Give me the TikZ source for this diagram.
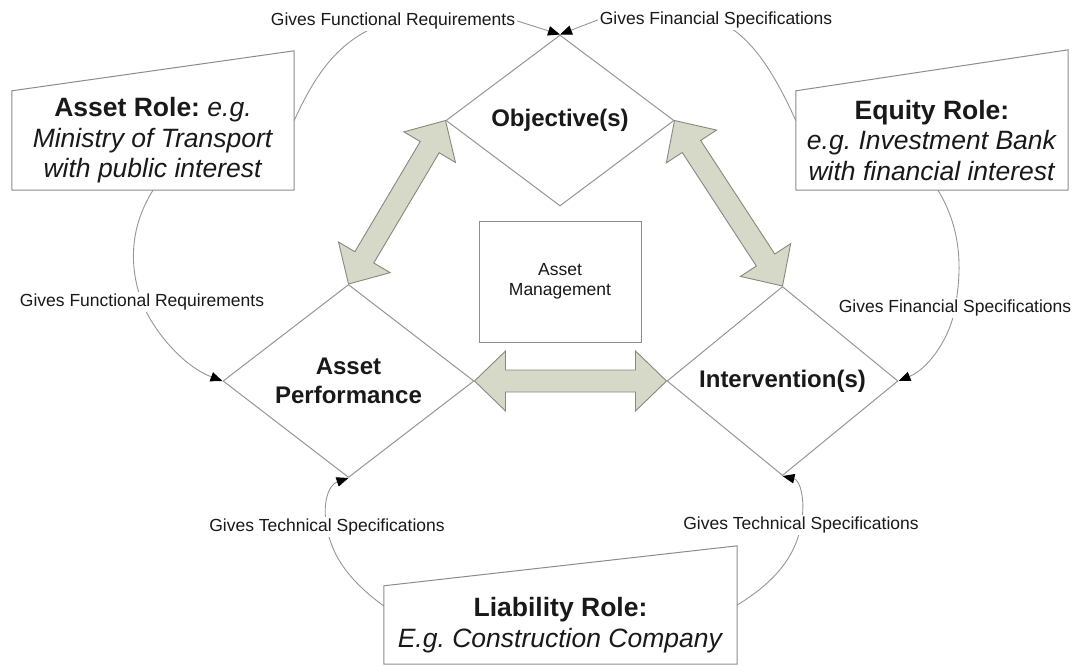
\documentclass[tikz,border=0pt]{standalone}
\usepackage{fontspec}
\setmainfont{Liberation Sans}
\usetikzlibrary{shapes.geometric, arrows.meta, calc, backgrounds}

\definecolor{edgegray}{RGB}{150,150,150}
\definecolor{boxgray}{RGB}{140,140,140}
\definecolor{arrowfill}{RGB}{214,217,200}
\definecolor{arrowedge}{RGB}{135,137,125}
\definecolor{inkblack}{RGB}{25,25,25}

% double-headed block arrow running from #1 to #2
\newcommand\fatarrow[2]{%
  \coordinate (fa-a) at ($(#1)!31pt!(#2)$);
  \coordinate (fa-b) at ($(#2)!31pt!(#1)$);
  \draw[fatarrowstyle] (#1) -- ($(fa-a)!30pt!90:(#2)$) -- ($(fa-a)!11pt!90:(#2)$)
    -- ($(fa-b)!11pt!-90:(#1)$) -- ($(fa-b)!30pt!-90:(#1)$) -- (#2)
    -- ($(fa-b)!30pt!90:(#1)$) -- ($(fa-b)!11pt!90:(#1)$)
    -- ($(fa-a)!11pt!-90:(#2)$) -- ($(fa-a)!30pt!-90:(#2)$) -- cycle;}

\tikzset{
  diam/.style={diamond, draw=edgegray, line width=1pt, inner sep=0pt, align=center,
    font=\fontsize{24}{29.5}\selectfont\bfseries, text=inkblack},
  rolebox/.style={rectangle, inner sep=0pt, align=center,
    font=\fontsize{26.5}{30.5}\selectfont\frenchspacing, text=inkblack},
  roleedge/.style={draw=boxgray, line width=1pt, line join=miter},
  lbl/.style={fill=white, inner sep=2pt, font=\fontsize{17.5}{21}\selectfont, text=inkblack},
  conn/.style={draw=edgegray, line width=0.9pt,
    -{Triangle[length=12pt,width=9.5pt,color=black]}},
  fatarrowstyle/.style={fill=arrowfill, draw=arrowedge, line width=0.9pt, line join=miter},
}

\begin{document}
\frenchspacing
\begin{tikzpicture}[x=1pt, y=-1pt]
\useasboundingbox (0,0) rectangle (1076,666);

% the three activity diamonds
\node[diam, minimum width=228pt, minimum height=171pt] (obj) at (560,120.5) {Objective(s)};
\node[diam, minimum width=251pt, minimum height=173pt] (ap) at (348.5,381) {Asset\\Performance};
\node[diam, minimum width=231pt, minimum height=172pt] (iv) at (782.5,381) {Intervention(s)};

% central box
\node[draw=boxgray, line width=1pt, minimum width=162pt, minimum height=121pt, align=center,
  font=\fontsize{17.5}{20.5}\selectfont, text=inkblack] (am) at (560,281.5) {Asset\\Management};

% role boxes with slanted tops
\node[rolebox, minimum width=282pt, minimum height=99pt] (assetrole) at (153,140.5)
  {\textbf{Asset Role:} \textit{e.g.}\\\textit{Ministry of Transport}\\\textit{with public interest}};
\draw[roleedge] (assetrole.south west) -- (assetrole.north west)
  -- ([yshift=40pt]assetrole.north east) -- (assetrole.south east) -- cycle;

\node[rolebox, minimum width=272pt, minimum height=99pt] (equityrole) at (932,140.5)
  {\textbf{Equity Role:}\\\textit{e.g. Investment Bank}\\\textit{with financial interest}};
\draw[roleedge] (equityrole.south west) -- (equityrole.north west)
  -- ([yshift=41pt]equityrole.north east) -- (equityrole.south east) -- cycle;

\node[rolebox, minimum width=353pt, minimum height=78pt] (liab) at (560.5,625)
  {\textbf{Liability Role:}\\\textit{E.g. Construction Company}};
\draw[roleedge] (liab.south west) -- (liab.north west)
  -- ([yshift=40pt]liab.north east) -- (liab.south east) -- cycle;

% connector labels
\node[lbl] (l1) at (393,21) {Gives Functional Requirements};
\node[lbl] (l2) at (716,20) {Gives Financial Specifications};
\node[lbl] (l3) at (142,302) {Gives Functional Requirements};
\node[lbl] (l4) at (955,308) {Gives Financial Specifications};
\node[lbl] (l5) at (327,527) {Gives Technical Specifications};
\node[lbl] (l6) at (801,525) {Gives Technical Specifications};

% block arrows between the diamonds
\fatarrow{ap.north}{obj.west}
\fatarrow{obj.east}{iv.north}
\fatarrow{ap.east}{iv.west}

% curved connectors run behind the labels
\begin{pgfonlayer}{background}
  \fill[white] (0,0) rectangle (1076,666);
  \draw[conn] ([yshift=20pt]assetrole.east) .. controls (315,75) and (340,35) .. (l1.center)
    -- (l1.east) -- (obj.north);
  \draw[conn] ([yshift=20pt]equityrole.west) .. controls (775,75) and (752,35) .. (l2.center)
    -- (l2.west) -- (obj.north);
  \draw[conn] (assetrole.south) .. controls (128,230) and (130,270) .. (l3.center)
    .. controls (150,325) and (180,365) .. (ap.west);
  \draw[conn] ([xshift=6pt]equityrole.south) .. controls (962,230) and (962,270) .. (l4.center)
    .. controls (951,335) and (930,368) .. (iv.east);
  \draw[conn] ([yshift=19pt]liab.west) .. controls (355,585) and (332,560) .. (l5.center)
    .. controls (322,505) and (328,485) .. (ap.south);
  \draw[conn] ([yshift=20pt]liab.east) .. controls (770,585) and (795,560) .. (l6.center)
    .. controls (806,500) and (800,480) .. (iv.south);
\end{pgfonlayer}
\end{tikzpicture}
\end{document}
